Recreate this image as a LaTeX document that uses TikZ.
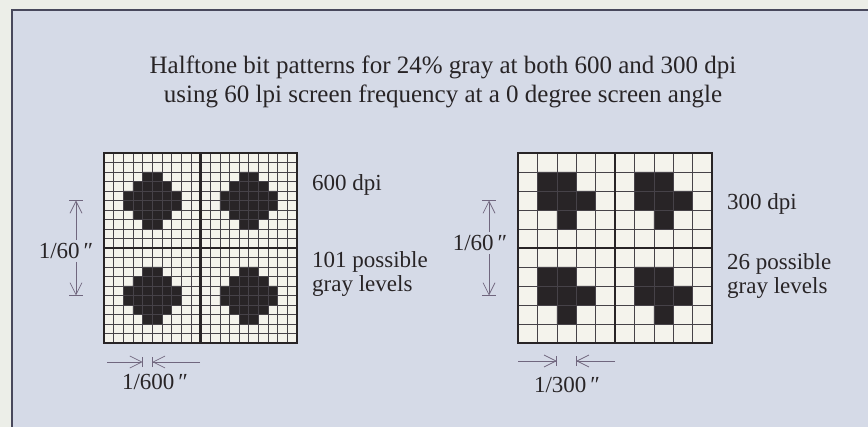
\documentclass[tikz,border=0pt]{standalone}
\usepackage{fontspec}
\setmainfont{Liberation Serif}
\usetikzlibrary{arrows.meta, positioning}
\definecolor{pagetint}{RGB}{236,238,232}
\definecolor{panelgray}{RGB}{213,218,231}
\definecolor{framegray}{RGB}{72,72,92}
\definecolor{paperwhite}{RGB}{244,243,236}
\definecolor{inkdark}{RGB}{40,36,38}
\definecolor{gridgray}{RGB}{70,66,72}
\definecolor{dimgray}{RGB}{112,102,126}

\begin{document}
\begin{tikzpicture}[x=1pt, y=-1pt,
  heading/.style={font=\fontsize{25}{29}\selectfont, text=inkdark, align=center, inner sep=0pt},
  lbl/.style={font=\fontsize{23}{24}\selectfont, text=inkdark, align=left, anchor=west, inner sep=0pt},
  dimlbl/.style={font=\fontsize{23}{24}\selectfont, text=inkdark, inner sep=3pt},
  dimline/.style={draw=dimgray, line width=0.7pt, -{Straight Barb[length=12pt, width=12pt, line width=0.7pt]}},
  tickbar/.style={draw=dimgray, line width=0.7pt},
  cellline/.style={draw=gridgray, line width=0.6pt},
  heavy/.style={draw=inkdark, line width=2.2pt},
  blot/.style={fill=inkdark}
]
\useasboundingbox (0,0) rectangle (868,427);
\fill[pagetint] (0,0) rectangle (868,427);
\fill[panelgray] (12,10) rectangle (868,427);
\draw[framegray, line width=1.6pt] (12,427) -- (12,10) -- (868,10);

% title
\node[heading] (title) at (443,82) {Halftone bit patterns for 24\% gray at both 600 and 300 dpi\\using 60 lpi screen frequency at a 0 degree screen angle};

% 600 dpi pattern
\begin{scope}[shift={(104,153)}, x=9.65pt, y=-9.5pt]
  \fill[paperwhite] (0,0) rectangle (20,20);
  \foreach \qx/\qy in {0/0, 10/0, 0/10, 10/10}
    \fill[blot, shift={(\qx,\qy)}] (4,2) -- (6,2) -- (6,3) -- (7,3) -- (7,4) -- (8,4) -- (8,6) -- (7,6) -- (7,7) -- (6,7) -- (6,8) -- (4,8) -- (4,7) -- (3,7) -- (3,6) -- (2,6) -- (2,4) -- (3,4) -- (3,3) -- (4,3) -- cycle;
  \foreach \k in {1,...,19} {
    \draw[cellline] (\k,0) -- (\k,20);
    \draw[cellline] (0,\k) -- (20,\k);
  }
  \draw[heavy] (10,0) -- (10,20) (0,10) -- (20,10);
  \draw[heavy] (0,0) rectangle (20,20);
\end{scope}

% 300 dpi pattern
\begin{scope}[shift={(518,153)}, x=19.4pt, y=-19pt]
  \fill[paperwhite] (0,0) rectangle (10,10);
  \foreach \qx/\qy in {0/0, 5/0, 0/5, 5/5}
    \fill[blot, shift={(\qx,\qy)}] (1,1) -- (3,1) -- (3,2) -- (4,2) -- (4,3) -- (3,3) -- (3,4) -- (2,4) -- (2,3) -- (1,3) -- cycle;
  \foreach \k in {1,...,9} {
    \draw[cellline] (\k,0) -- (\k,10);
    \draw[cellline] (0,\k) -- (10,\k);
  }
  \draw[heavy] (5,0) -- (5,10) (0,5) -- (10,5);
  \draw[heavy] (0,0) rectangle (10,10);
\end{scope}

% labels
\node[lbl] (dpiA) at (312,185) {600 dpi};
\node[lbl] (levelsA) at (312,274) {101 possible\\gray levels};
\node[lbl] (dpiB) at (727,204) {300 dpi};
\node[lbl] (levelsB) at (727,276) {26 possible\\gray levels};

% 1/60 inch, left
\node[dimlbl] (dimA) at (66,251) {1/60\,″};
\coordinate (topA) at (76,200.5);
\coordinate (botA) at (76,295.5);
\draw[dimline] (dimA.north -| topA) -- (topA);
\draw[dimline] (dimA.south -| botA) -- (botA);
\draw[tickbar] ([xshift=-7pt]topA) -- ([xshift=7pt]topA);
\draw[tickbar] ([xshift=-7pt]botA) -- ([xshift=7pt]botA);

% 1/60 inch, right
\node[dimlbl] (dimB) at (480,243) {1/60\,″};
\coordinate (topB) at (489,200.5);
\coordinate (botB) at (489,295.5);
\draw[dimline] (dimB.north -| topB) -- (topB);
\draw[dimline] (dimB.south -| botB) -- (botB);
\draw[tickbar] ([xshift=-7pt]topB) -- ([xshift=7pt]topB);
\draw[tickbar] ([xshift=-7pt]botB) -- ([xshift=7pt]botB);

% one cell, 600 dpi
\coordinate (cellAl) at (142.6,362);
\coordinate (cellAr) at (152.3,362);
\coordinate (cellAfar) at (107,362);
\coordinate (cellAnear) at (200,362);
\draw[dimline] (cellAfar) -- (cellAl);
\draw[dimline] (cellAnear) -- (cellAr);
\draw[tickbar] ([yshift=-5pt]cellAl) -- ([yshift=5pt]cellAl);
\draw[tickbar] ([yshift=-5pt]cellAr) -- ([yshift=5pt]cellAr);
\node[dimlbl] (cellA) at (155,382) {1/600\,″};

% one cell, 300 dpi
\coordinate (cellBl) at (556.8,361);
\coordinate (cellBr) at (576.2,361);
\coordinate (cellBfar) at (518,361);
\coordinate (cellBnear) at (615,361);
\draw[dimline] (cellBfar) -- (cellBl);
\draw[dimline] (cellBnear) -- (cellBr);
\draw[tickbar] ([yshift=-5pt]cellBl) -- ([yshift=5pt]cellBl);
\draw[tickbar] ([yshift=-5pt]cellBr) -- ([yshift=5pt]cellBr);
\node[dimlbl] (cellB) at (567,385) {1/300\,″};
\end{tikzpicture}
\end{document}
